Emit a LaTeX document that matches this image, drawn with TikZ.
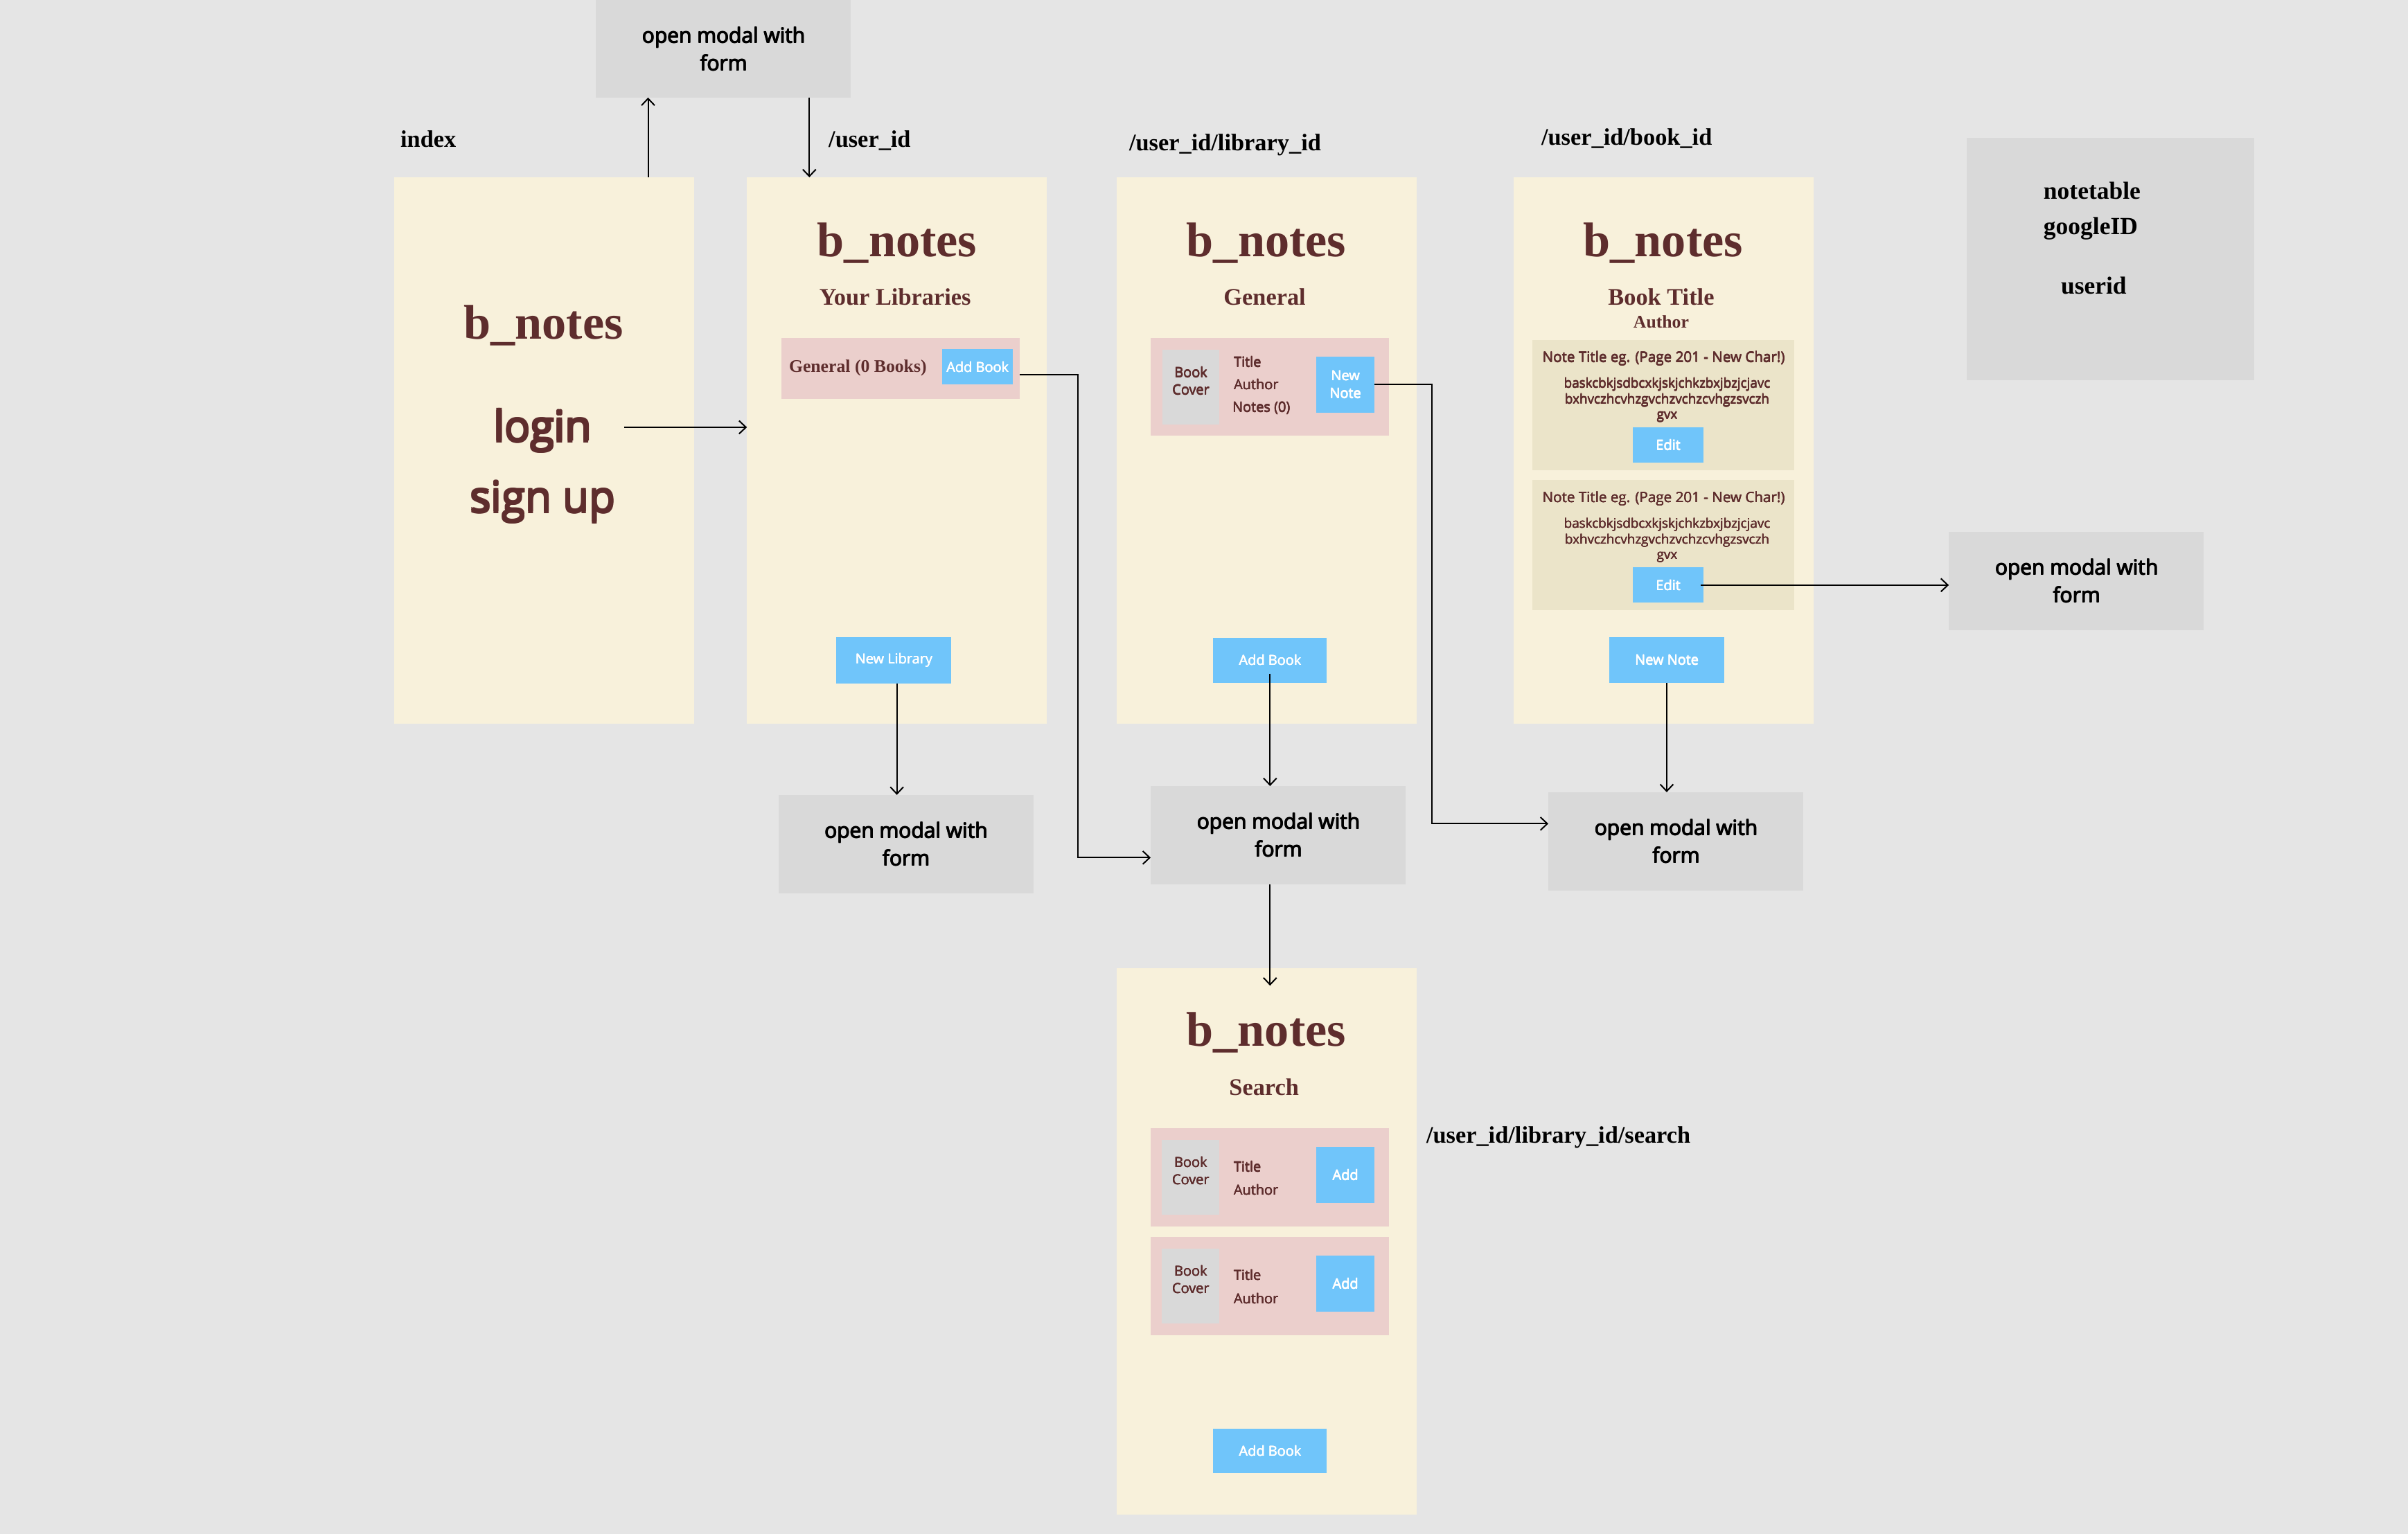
\documentclass[tikz,border=0pt]{standalone}
\usepackage{fontspec}
\setmainfont{Liberation Serif}
\newfontfamily\uisans{Open Sans}
\usetikzlibrary{arrows.meta}
\definecolor{bgc}{HTML}{E5E5E5}
\definecolor{cream}{HTML}{F8F1DB}
\definecolor{rowpink}{HTML}{EBCFCC}
\definecolor{boxgrey}{HTML}{D9D9D9}
\definecolor{cardc}{HTML}{EBE4C9}
\definecolor{btnblue}{HTML}{70C5FA}
\definecolor{brownc}{HTML}{5E2D2D}
\newcommand{\fsz}[2]{\fontsize{#1}{#2}\selectfont}
% overprinted text for a medium / semibold look
\newcommand{\hv}[2]{\leavevmode\rlap{\kern#1\relax#2}\rlap{\raisebox{#1}{#2}}\rlap{\kern#1\relax\raisebox{#1}{#2}}#2}
\newcommand{\mt}{\hv{0.45pt}{open modal with}\\\hv{0.45pt}{form}}
\newcommand{\bt}[1]{\hv{0.2pt}{#1}}
\newcommand{\st}[1]{\hv{0.15pt}{#1}}
\tikzset{
 box/.style={inner sep=0pt, outer sep=0pt, anchor=north west},
 txt/.style={inner sep=0pt, outer sep=0pt},
 panel/.style={box, fill=cream, minimum width=195.4pt, minimum height=356pt},
 modal/.style={inner sep=0pt, outer sep=0pt, fill=boxgrey, minimum width=166pt, minimum height=64pt, align=center, font=\uisans\fsz{13.5}{18}, text=black},
 bookrow/.style={box, fill=rowpink, minimum width=155.2pt, minimum height=63.8pt},
 cover/.style={box, fill=boxgrey, minimum width=37.3pt, minimum height=48.7pt},
 card/.style={box, fill=cardc, minimum width=170.4pt, minimum height=84.8pt},
 btn/.style={inner sep=0pt, outer sep=0pt, fill=btnblue, text=white, font=\uisans\fsz{9}{11.6}, align=center},
 logo/.style={txt, anchor=base, text=brownc, font=\bfseries\fsz{31.7}{38}},
 sub/.style={txt, anchor=base, text=brownc, font=\bfseries\fsz{15.5}{18}},
 route/.style={txt, anchor=base west, text=black, font=\bfseries\fsz{15.5}{18}},
 small/.style={txt, anchor=base west, text=brownc, font=\uisans\fsz{9}{11}},
 smallc/.style={txt, anchor=base, text=brownc, font=\uisans\fsz{9}{11}},
 big/.style={txt, anchor=base, text=brownc, font=\uisans\fsz{28}{32}},
 ntitle/.style={txt, anchor=base, text=brownc, font=\uisans\fsz{9.3}{11}},
 nbody/.style={txt, anchor=base, text=brownc, font=\uisans\fsz{8.5}{10}},
 arr/.style={-{Straight Barb[length=4.5pt,width=8.5pt]}, line width=0.9pt, draw=black},
}
\begin{document}
\begin{tikzpicture}[x=1pt,y=-1pt]
\useasboundingbox (0,0) rectangle (1568,999);
\fill[bgc] (0,0) rectangle (1568,999);

% panels
\node[panel] (p1) at (256.8,115.5) {};
\node[panel] (p2) at (486.4,115.5) {};
\node[panel] (p3) at (727.1,115.5) {};
\node[panel] (p4) at (985.6,115.5) {};
\node[panel] (p5) at (727.1,630.5) {};

% route labels
\node[route] (l1) at (260.8,96) {index};
\node[route] (l2) at (539.6,96) {/user\_id};
\node[route] (l3) at (735.3,98) {/user\_id/library\_id};
\node[route] (l4) at (1003.7,94.3) {/user\_id/book\_id};
\node[route] (l5) at (928.8,744.4) {/user\_id/library\_id/search};

% db box
\node[box, fill=boxgrey, minimum width=187.3pt, minimum height=158pt] (db) at (1280.7,89.8) {};
\node[route, font=\bfseries\fsz{16}{18}] (db1) at (1330.7,129.6) {notetable};
\node[route, font=\bfseries\fsz{16}{18}] (db2) at (1330.7,152.6) {googleID};
\node[route, font=\bfseries\fsz{16}{18}] (db3) at (1342,191.7) {userid};

% modals
\node[modal, minimum height=63.5pt] (m1) at (471,31.75) {\mt};
\node[modal] (m2) at (589.8,549.75) {\mt};
\node[modal] (m3) at (832.3,544) {\mt};
\node[modal] (m4) at (1091.2,548) {\mt};
\node[modal] (m5) at (1352,378.5) {\mt};

% P1 index
\node[logo] (t1) at (354,221) {b\_notes};
\node[big] (login) at (352.8,288.4) {\hv{1.1pt}{login}};
\node[big] (signup) at (353,334.4) {\hv{1.1pt}{sign up}};

% P2 user
\node[logo] (t2) at (584.2,167.2) {b\_notes};
\node[sub] (s2) at (582.9,198.6) {Your Libraries};
\node[bookrow, minimum height=39.8pt] (row2) at (508.8,220) {};
\node[txt, anchor=base west, text=brownc, font=\bfseries\fsz{11.6}{13}] (gen2) at (513.8,242.3) {General (0 Books)};
\node[btn, minimum width=46pt, minimum height=23pt] (ab2) at (636.5,239) {\bt{Add Book}};
\node[btn, minimum width=75pt, minimum height=30pt] (nl) at (582,430) {\bt{New Library}};

% P3 library
\node[logo] (t3) at (824.6,167.2) {b\_notes};
\node[sub] (s3) at (823.5,198.5) {General};
\node[bookrow] (row3) at (749.4,220) {};
\node[cover] (cv3) at (756.7,227.8) {};
\node[smallc] (cv3a) at (775.4,245.9) {\st{Book}};
\node[smallc] (cv3b) at (775.4,257.2) {\st{Cover}};
\node[small] (ti3) at (803.4,239.1) {\st{Title}};
\node[small] (au3) at (803.4,253.8) {\st{Author}};
\node[small] (no3) at (802.5,268.4) {\st{Notes (0)}};
\node[btn, minimum width=38pt, minimum height=36.4pt] (nn3) at (876,250.5) {\bt{New}\\\bt{Note}};
\node[btn, minimum width=74pt, minimum height=29.5pt] (ab3) at (827,430) {\bt{Add Book}};

% P4 book
\node[logo] (t4) at (1083,167.2) {b\_notes};
\node[sub] (s4) at (1081.7,198.5) {Book Title};
\node[txt, anchor=base, text=brownc, font=\bfseries\fsz{11.6}{13}] (a4) at (1081.7,213.4) {Author};
\node[card] (c1) at (997.8,221.5) {};
\node[card] (c2) at (997.8,312.8) {};
\node[ntitle] (c1t) at (1083.3,236) {\st{Note Title eg. (Page 201 - New Char!)}};
\node[nbody] (c1a) at (1085.5,252.7) {\st{baskcbkjsdbcxkjskjchkzbxjbzjcjavc}};
\node[nbody] (c1b) at (1085.5,263) {\st{bxhvczhcvhzgvchzvchzcvhgzsvczh}};
\node[nbody] (c1c) at (1085.5,273) {\st{gvx}};
\node[btn, minimum width=45.7pt, minimum height=22.9pt] (ed1) at (1086.2,289.75) {\bt{Edit}};
\node[ntitle] (c2t) at (1083.3,327.3) {\st{Note Title eg. (Page 201 - New Char!)}};
\node[nbody] (c2a) at (1085.5,344) {\st{baskcbkjsdbcxkjskjchkzbxjbzjcjavc}};
\node[nbody] (c2b) at (1085.5,354.3) {\st{bxhvczhcvhzgvchzvchzcvhgzsvczh}};
\node[nbody] (c2c) at (1085.5,364.3) {\st{gvx}};
\node[btn, minimum width=45.7pt, minimum height=22.9pt] (ed2) at (1086.2,381.1) {\bt{Edit}};
\node[btn, minimum width=75pt, minimum height=29.6pt] (nn4) at (1085.3,429.9) {\bt{New Note}};

% P5 search
\node[logo] (t5) at (824.5,681.3) {b\_notes};
\node[sub] (s5) at (823.1,713.5) {Search};
\node[bookrow] (r5a) at (749.2,735) {};
\node[cover] (cv5a) at (756.6,742.5) {};
\node[smallc] (cv5a1) at (775.3,760.5) {\st{Book}};
\node[smallc] (cv5a2) at (775.3,771.8) {\st{Cover}};
\node[small] (ti5a) at (803.3,763.3) {\st{Title}};
\node[small] (au5a) at (803.3,778.4) {\st{Author}};
\node[btn, minimum width=38pt, minimum height=36.6pt] (ad5a) at (876,765.3) {\bt{Add}};
\node[bookrow] (r5b) at (749.2,805.7) {};
\node[cover] (cv5b) at (756.6,813.2) {};
\node[smallc] (cv5b1) at (775.3,831.2) {\st{Book}};
\node[smallc] (cv5b2) at (775.3,842.5) {\st{Cover}};
\node[small] (ti5b) at (803.3,834) {\st{Title}};
\node[small] (au5b) at (803.3,849.1) {\st{Author}};
\node[btn, minimum width=38pt, minimum height=36.6pt] (ad5b) at (876,836) {\bt{Add}};
\node[btn, minimum width=74pt, minimum height=29pt] (ab5) at (827,945) {\bt{Add Book}};

% connectors
\path ([xshift=34pt]m1.south west) coordinate (a1);
\path ([xshift=139pt]m1.south west) coordinate (a2);
\draw[arr] (a1 |- p1.north) -- (a1);
\draw[arr] (a2) -- (a2 |- p2.north);
\coordinate (la) at (406.5,278.3);
\draw[arr] (la) -- (la -| p2.west);
\draw[arr] ([xshift=2pt]nl.south) -- ([xshift=2pt]nl.south |- m2.north);
\draw[arr] ([yshift=-4pt]row2.east) -- ++(38,0) |- ([yshift=-14.6pt]m3.west);
\draw[arr] ([yshift=6pt]ab3.south) -- (ab3.south |- m3.north);
\coordinate (p5in) at ([yshift=-11.5pt]p5.north);
\draw[arr] (ab3.south |- m3.south) -- (ab3.south |- p5in);
\draw[arr] (nn3.east) -- ++(37.5,0) |- ([yshift=11.5pt]m4.west);
\draw[arr] (nn4.south) -- (nn4.south |- m4.north);
\draw[arr] ([xshift=-1.5pt]ed2.east) -- (ed2.east -| m5.west);
\end{tikzpicture}
\end{document}
